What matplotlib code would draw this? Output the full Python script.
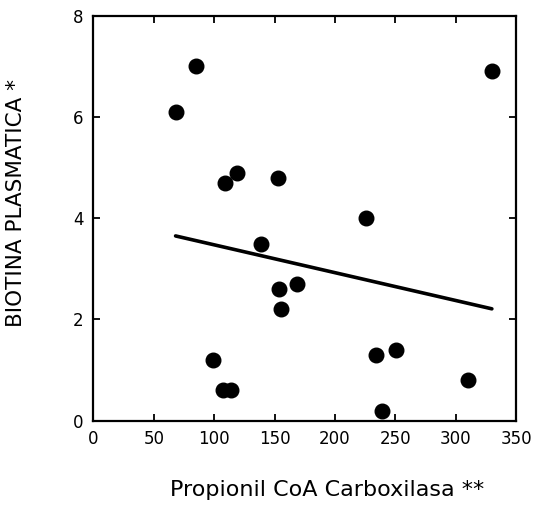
import matplotlib
matplotlib.use("Agg")
import matplotlib.pyplot as plt

# Data
pcc = [68, 85, 119, 109, 153, 226, 139, 154, 169, 155, 99, 107, 114, 234, 251, 310, 239, 330]
biotina = [6.1, 7.0, 4.9, 4.7, 4.8, 4.0, 3.5, 2.6, 2.7, 2.2, 1.2, 0.6, 0.6, 1.3, 1.4, 0.8, 0.2, 6.9]
fit_x = [68, 330]
fit_y = [3.65, 2.21]
xticks = [0, 50, 100, 150, 200, 250, 300, 350]
yticks = [0, 2, 4, 6, 8]

fig = plt.figure(figsize=(5.36, 5.07), dpi=100)
ax = fig.add_axes([0.1744, 0.1702, 0.7883, 0.7988])

ax.scatter(pcc, biotina, s=110, color="black", zorder=3, clip_on=False)
ax.plot(fit_x, fit_y, color="black", lw=2.6, solid_capstyle="round")

ax.set_xlim(0, 350)
ax.set_ylim(0, 8)
ax.set_xticks(xticks)
ax.set_yticks(yticks)
ax.tick_params(direction="in", length=5, width=1.3, labelsize=12,
               top=True, right=True, pad=7)
for s in ax.spines.values():
    s.set_linewidth(1.6)

fig.text(0.030, 0.60, "BIOTINA PLASMATICA *", rotation=90, ha="center",
         va="center", fontsize=15.5)
fig.text(0.611, 0.034, "Propionil CoA Carboxilasa **", ha="center",
         va="center", fontsize=16)

fig.savefig("out.png", dpi=100)
